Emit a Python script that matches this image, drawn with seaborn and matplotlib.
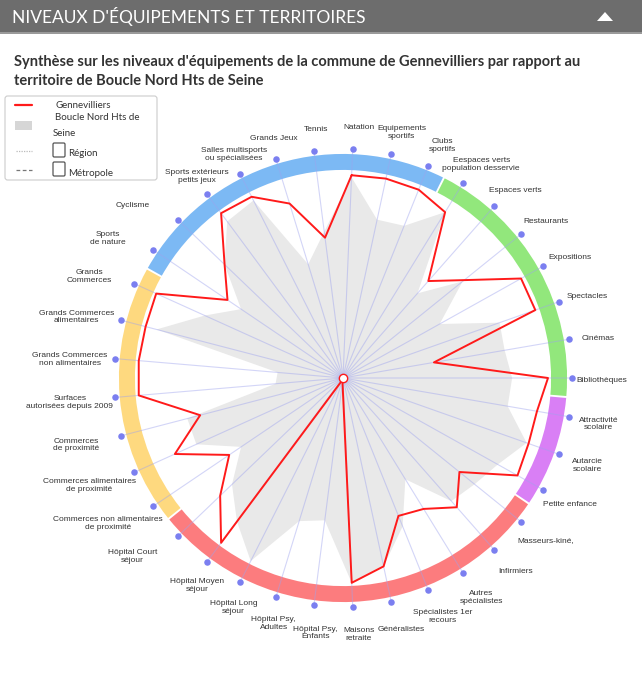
import numpy as np
import matplotlib
matplotlib.use("Agg")
import matplotlib.pyplot as plt
import seaborn as sns
from matplotlib.patches import Rectangle, FancyBboxPatch, Polygon
from matplotlib.lines import Line2D

# ---------------- data ----------------
categories = ["Natation", "Equipements\nsportifs", "Clubs\nsportifs",
              "Eespaces verts\npopulation desservie", "Espaces verts", "Restaurants",
              "Expositions", "Spectacles", "Cinémas", "Bibliothèques",
              "Attractivité\nscolaire", "Autarcie\nscolaire", "Petite enfance",
              "Masseurs-kiné,", "Infirmiers", "Autres\nspécialistes",
              "Spécialistes 1er\nrecours", "Généralistes", "Maisons\nretraite",
              "Hôpital Psy,\nEnfants", "Hôpital Psy,\nAdultes", "Hôpital Long\nséjour",
              "Hôpital Moyen\nséjour", "Hôpital Court\nséjour",
              "Commerces non alimentaires\nde proximité",
              "Commerces alimentaires\nde proximité", "Commerces\nde proximité",
              "Surfaces\nautorisées depuis 2009", "Grands Commerces\nnon alimentaires",
              "Grands Commerces\nalimentaires", "Grands\nCommerces", "Sports\nde nature",
              "Cyclisme", "Sports extérieurs\npetits jeux",
              "Salles multisports\nou spécialisées", "Grands Jeux", "Tennis"]

gennevilliers = [99, 99.5, 99, 95, 63, 76, 99.5, 99.5, 45, 100,
                 96, 96, 97.5, 73, 84, 75, 72.5, 94, 100,
                 2, 2, 2, 100, 83, 67, 90, 72, 100, 100, 99.5, 100,
                 68, 80, 100, 99, 89, 69]

boucle_nord = [98, 79, 80, 95, 55, 75, 54, 81, 80, 82.5,
               81.5, 95, 86.5, 82.5, 80, 58, 78, 94, 100,
               70, 73, 100, 87, 75, 60, 78.5, 78.5, 33, 32, 94, 74,
               60, 80, 95, 97, 58, 72]

groups = ["Sport", "Culture", "Education", "Santé", "Commerce"]
group_sizes = [9, 7, 3, 11, 7]          # consecutive categories per ring segment
group_start = [-6, 3, 10, 13, 24]        # index of first category of each segment
group_colors = ["#7cb9f4", "#92e77c", "#d97ff5", "#fc7c7e", "#fed97f"]

# ---------------- figure ----------------
sns.set_theme(style="white")
plt.rcParams['font.family'] = ['Liberation Sans', 'DejaVu Sans']

W, H = 642, 682
fig = plt.figure(figsize=(W / 100, H / 100), dpi=100)
fig.patch.set_facecolor("white")

def fx(x):
    return x / W

def fy(y):
    return 1 - y / H

# header band
fig.add_artist(Rectangle((0, fy(32)), 1, 32 / H, transform=fig.transFigure,
                         facecolor="#6d6d6d", edgecolor="none"))
fig.add_artist(Rectangle((0, fy(34)), 1, 2 / H, transform=fig.transFigure,
                         facecolor="#9a9a9a", edgecolor="none"))
fig.text(fx(12), fy(17), "NIVEAUX D'ÉQUIPEMENTS ET TERRITOIRES", color="white",
         fontsize=12.5, family="Lato", weight="normal", va="center", ha="left")
fig.add_artist(Polygon([[fx(597), fy(21)], [fx(613), fy(21)], [fx(605), fy(12)]],
                       closed=True, transform=fig.transFigure,
                       facecolor="white", edgecolor="none"))

# subtitle
fig.text(fx(14), fy(62), "Synthèse sur les niveaux d'équipements de la commune de Gennevilliers par rapport au",
         color="#333333", fontsize=10.5, family="Lato", weight="bold", va="center", ha="left")
fig.text(fx(14), fy(81), "territoire de Boucle Nord Hts de Seine",
         color="#333333", fontsize=10.5, family="Lato", weight="bold", va="center", ha="left")

# ---------------- polar chart ----------------
CX, CY = 343, 378          # centre in pixels
PX_PER_UNIT = 2.05
RMAX = 112
R_AX = RMAX * PX_PER_UNIT
ax = fig.add_axes([fx(CX - R_AX), fy(CY + R_AX), 2 * R_AX / W, 2 * R_AX / H],
                  projection="polar")
ax.set_theta_zero_location("N")
ax.set_theta_direction(-1)
ax.set_ylim(0, RMAX)
ax.grid(False)
ax.spines["polar"].set_visible(False)
ax.patch.set_alpha(0)

n = len(categories)
step = 2 * np.pi / n
offset = np.deg2rad(2.43)
theta = offset + step * np.arange(n)

# gray area (Boucle Nord)
tc = np.append(theta, theta[0])
gc = np.append(boucle_nord, boucle_nord[0])
ax.fill(tc, gc, color="#e9e9e9", zorder=1, linewidth=0)

# ring segments
ring_in, ring_out = 101.5, 109.3
gap = np.deg2rad(0.5)
for start, size, col in zip(group_start, group_sizes, group_colors):
    a0 = offset + (start - 0.5) * step + gap / 2
    width = size * step - gap
    ax.bar(a0 + width / 2, ring_out - ring_in, width=width, bottom=ring_in,
           color=col, edgecolor="none", zorder=2, align="center")

# spokes
R_DOT = 229 / PX_PER_UNIT
for t in theta:
    ax.plot([t, t], [0, R_DOT], color="#9ea3ee", alpha=0.45, lw=0.8, zorder=3)

# red line (Gennevilliers)
rc = np.append(gennevilliers, gennevilliers[0])
sns.lineplot(x=tc, y=rc, sort=False, estimator=None, color="#ff1a1a",
             linewidth=1.4, ax=ax, zorder=4, legend=False)
ax.set_xlabel("")
ax.set_ylabel("")
ax.set_xticks([])
ax.set_yticks([])

# centre marker
ax.plot([0], [0], marker="o", markersize=6, markerfacecolor="white",
        markeredgecolor="#ff1a1a", markeredgewidth=1, zorder=5)

# axis-end dots
ax.scatter(theta, np.full(n, R_DOT), s=22, color="#7b7ff0", zorder=5,
           clip_on=False, linewidths=0)

# labels
for lab, t in zip(categories, theta):
    deg = np.rad2deg(t) % 360
    s, c = np.sin(t), np.cos(t)
    dx, dy = CX + 229 * s, CY - 229 * c
    if 225 < deg < 315:
        lx = dx - 45
    else:
        lx = dx + 25 * s + 5
    ly = dy - 25 * c + 3
    fig.text(fx(lx), fy(ly), lab, ha="center", va="center", multialignment="center",
             fontsize=6, color="#333333", linespacing=1.15)

# ---------------- legend ----------------
fig.add_artist(FancyBboxPatch((fx(5), fy(180)), (157 - 5) / W, (180 - 96) / H,
                              boxstyle="round,pad=0,rounding_size=0.004",
                              transform=fig.transFigure, facecolor="white",
                              edgecolor="#cccccc", linewidth=0.8, zorder=6))
fig.add_artist(Line2D([fx(15), fx(32)], [fy(105), fy(105)], color="#ff1a1a", lw=1.6,
                      transform=fig.transFigure, zorder=7))
fig.add_artist(Rectangle((fx(15), fy(130)), 17 / W, 9 / H, transform=fig.transFigure,
                         facecolor="#d6d6d6", edgecolor="none", zorder=7))
fig.add_artist(Line2D([fx(16), fx(32)], [fy(151), fy(151)], color="#bbbbbb", lw=0.9,
                      linestyle=(0, (1, 1)), transform=fig.transFigure, zorder=7))
fig.add_artist(Line2D([fx(16), fx(32)], [fy(170), fy(170)], color="#777777", lw=0.9,
                      linestyle=(0, (3, 2)), transform=fig.transFigure, zorder=7))
for y0 in (143, 162):
    fig.add_artist(FancyBboxPatch((fx(53), fy(y0 + 14)), 12 / W, 14 / H,
                                  boxstyle="round,pad=0,rounding_size=0.002",
                                  transform=fig.transFigure, facecolor="white",
                                  edgecolor="#555555", linewidth=0.9, zorder=7))
legend_font = dict(fontsize=7, family="Lato", color="#333333", va="center", ha="left", zorder=8)
fig.text(fx(55), fy(105), "Gennevilliers", **legend_font)
fig.text(fx(55), fy(118), "Boucle Nord Hts de", **legend_font)
fig.text(fx(53), fy(133), "Seine", **legend_font)
fig.text(fx(68), fy(153), "Région", **legend_font)
fig.text(fx(68), fy(173), "Métropole", **legend_font)

fig.savefig("out.png", dpi=100, facecolor="white")
